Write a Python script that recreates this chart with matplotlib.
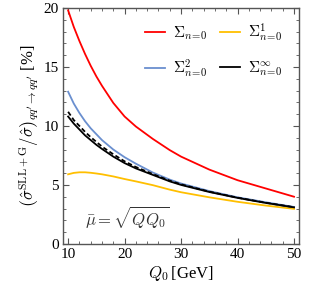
import numpy as np
import matplotlib
matplotlib.use("Agg")
from matplotlib import pyplot as plt
from matplotlib.ticker import MultipleLocator

plt.rcParams['font.family'] = ['Liberation Serif', 'DejaVu Serif']
plt.rcParams['mathtext.fontset'] = 'cm'

### values ###
Q0 = [10, 11, 12, 13, 14, 15, 16, 18, 20, 22, 25, 28, 30, 35, 40, 45, 50]
sig_n0 = [19.8, 18.4, 17.2, 16.1, 15.1, 14.2, 13.4, 11.95, 10.8, 9.95, 8.9, 7.95, 7.4, 6.3, 5.4, 4.7, 4.0]
sig_n1 = [5.9, 6.02, 6.07, 6.07, 6.03, 5.97, 5.9, 5.72, 5.5, 5.3, 4.98, 4.6, 4.38, 3.95, 3.57, 3.25, 2.97]
sig_n2 = [12.9, 11.9, 11.1, 10.4, 9.8, 9.3, 8.8, 8.0, 7.35, 6.8, 6.05, 5.45, 5.12, 4.48, 3.95, 3.53, 3.13]
sig_inf = [10.8, 10.2, 9.7, 9.2, 8.8, 8.4, 8.05, 7.4, 6.85, 6.4, 5.85, 5.3, 5.0, 4.4, 3.9, 3.47, 3.1]
sig_dash = [11.2, 10.5, 10.0, 9.5, 9.05, 8.65, 8.25, 7.6, 7.0, 6.52, 5.92, 5.36, 5.05, 4.43, 3.92, 3.49, 3.11]

fig = plt.figure(figsize=(3.09, 2.96), dpi=100)
ax = fig.add_axes([0.204, 0.176, 0.764, 0.797])

l0, = ax.plot(Q0, sig_n0, color="#ff0000", lw=1.3, label=r"$\Sigma_{n\!=\!0}$")
l1, = ax.plot(Q0, sig_n1, color="#ffbf00", lw=1.3, label=r"$\Sigma_{n\!=\!0}^{1}$")
l2, = ax.plot(Q0, sig_n2, color="#6a8fcf", lw=1.3, label=r"$\Sigma_{n\!=\!0}^{2}$")
l3, = ax.plot(Q0, sig_inf, color="black", lw=1.3, label=r"$\Sigma_{n\!=\!0}^{\infty}$")
ax.plot(Q0, sig_dash, color="black", lw=1.3, ls=(0, (2.5, 1.5)))

ax.set_xlim(9.1, 50.9)
ax.set_ylim(0, 20)
ax.xaxis.set_major_locator(MultipleLocator(10))
ax.xaxis.set_minor_locator(MultipleLocator(2))
ax.yaxis.set_major_locator(MultipleLocator(5))
ax.yaxis.set_minor_locator(MultipleLocator(1))
ax.tick_params(which="both", direction="in", top=True, right=True,
               color="#555555", labelsize=11, pad=3)
ax.tick_params(which="major", length=4, width=0.8)
ax.tick_params(which="minor", length=2, width=0.6)
for s in ax.spines.values():
    s.set_color("#555555")
    s.set_linewidth(1.0)

ax.set_xlabel(r"$Q_0\,$[GeV]", fontsize=12, labelpad=2)
ax.set_ylabel(r"$\left(\hat\sigma^{\rm SLL+G}/\hat\sigma\right)_{qq'\to qq'}$ [%]",
              fontsize=12, labelpad=2)

ax.text(13.0, 2.2, r"$\bar\mu = \sqrt{QQ_0}$", fontsize=12, va="center",
        color="#333333")

# legend fills column by column -> order so rows read n0, n1 / n2, inf
ax.legend([l0, l2, l1, l3], [l0.get_label(), l2.get_label(), l1.get_label(), l3.get_label()],
          loc="upper right", ncol=2, frameon=False, fontsize=11,
          handlelength=1.3, handletextpad=0.5, columnspacing=0.9,
          labelspacing=1.0, bbox_to_anchor=(0.985, 1.0))

fig.savefig("out.png", dpi=100)
